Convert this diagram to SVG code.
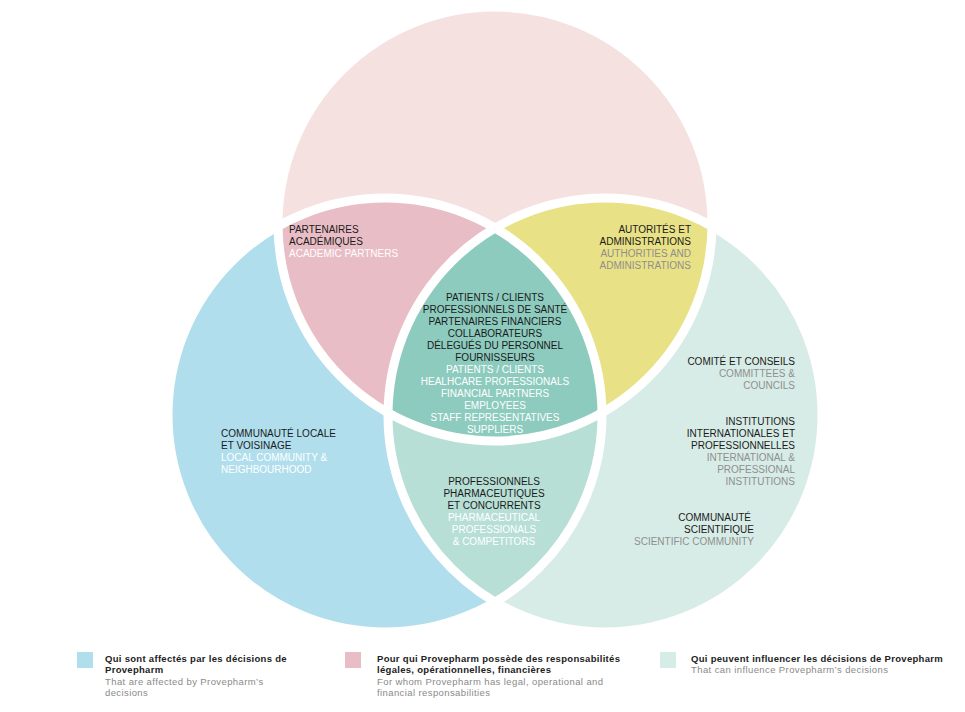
<svg xmlns="http://www.w3.org/2000/svg" width="965" height="712" viewBox="0 0 965 712">
<style>
text{font-family:"Liberation Sans",Arial,sans-serif;font-size:10px}
.fr{fill:#1a1a1a}
.enw{fill:#ffffff}
.eng{fill:#8f8f8f}
.c{text-anchor:middle}
.r{text-anchor:end}
.lgt{font-size:9.5px;font-weight:bold;fill:#222222;letter-spacing:0.3px}
.lge{font-size:9.5px;fill:#8a8a8a;letter-spacing:0.4px}
.ring{fill:none;stroke:#ffffff;stroke-width:9}
</style>
<defs>
<clipPath id="cT"><circle cx="495" cy="224" r="217"/></clipPath>
<clipPath id="cL"><circle cx="385" cy="415" r="217"/></clipPath>
<clipPath id="cR"><circle cx="605" cy="415" r="217"/></clipPath>
</defs>
<rect width="965" height="712" fill="#ffffff"/>
<g id="circles">
<circle id="top" cx="495" cy="224" r="217" fill="#f4e1e0"/>
<circle id="left" cx="385" cy="415" r="217" fill="#b1deed"/>
<circle id="right" cx="605" cy="415" r="217" fill="#d7ece6"/>
<circle id="top-left" cx="385" cy="415" r="217" fill="#e8bdc5" clip-path="url(#cT)"/>
<circle id="top-right" cx="605" cy="415" r="217" fill="#e9e186" clip-path="url(#cT)"/>
<circle id="left-right" cx="605" cy="415" r="217" fill="#b7dfd5" clip-path="url(#cL)"/>
<g clip-path="url(#cT)"><circle id="center" cx="605" cy="415" r="217" fill="#8dcbbe" clip-path="url(#cL)"/></g>
<circle class="ring" cx="495" cy="224" r="217"/>
<circle class="ring" cx="385" cy="415" r="217"/>
<circle class="ring" cx="605" cy="415" r="217"/>
</g>
<g id="academic">
<text class="fr" x="289" y="233">PARTENAIRES</text>
<text class="fr" x="289" y="245">ACADÉMIQUES</text>
<text class="enw" x="289" y="257">ACADEMIC PARTNERS</text>
</g>
<g id="authorities">
<text class="fr r" x="691" y="233">AUTORITÉS ET</text>
<text class="fr r" x="691" y="245">ADMINISTRATIONS</text>
<text class="eng r" x="691" y="257">AUTHORITIES AND</text>
<text class="eng r" x="691" y="269">ADMINISTRATIONS</text>
</g>
<g id="core">
<text class="fr c" x="495" y="301">PATIENTS / CLIENTS</text>
<text class="fr c" x="495" y="313">PROFESSIONNELS DE SANTÉ</text>
<text class="fr c" x="495" y="325">PARTENAIRES FINANCIERS</text>
<text class="fr c" x="495" y="337">COLLABORATEURS</text>
<text class="fr c" x="495" y="349">DÉLEGUÉS DU PERSONNEL</text>
<text class="fr c" x="495" y="361">FOURNISSEURS</text>
<text class="enw c" x="495" y="373">PATIENTS / CLIENTS</text>
<text class="enw c" x="495" y="385">HEALHCARE PROFESSIONALS</text>
<text class="enw c" x="495" y="397">FINANCIAL PARTNERS</text>
<text class="enw c" x="495" y="409">EMPLOYEES</text>
<text class="enw c" x="495" y="421">STAFF REPRESENTATIVES</text>
<text class="enw c" x="495" y="433">SUPPLIERS</text>
</g>
<g id="local">
<text class="fr" x="221" y="437">COMMUNAUTÉ LOCALE</text>
<text class="fr" x="221" y="449">ET VOISINAGE</text>
<text class="enw" x="221" y="461">LOCAL COMMUNITY &amp;</text>
<text class="enw" x="221" y="473">NEIGHBOURHOOD</text>
</g>
<g id="pharma">
<text class="fr c" x="494" y="485">PROFESSIONNELS</text>
<text class="fr c" x="494" y="497">PHARMACEUTIQUES</text>
<text class="fr c" x="494" y="509">ET CONCURRENTS</text>
<text class="enw c" x="494" y="521">PHARMACEUTICAL</text>
<text class="enw c" x="494" y="533">PROFESSIONALS</text>
<text class="enw c" x="494" y="545">&amp; COMPETITORS</text>
</g>
<g id="committees">
<text class="fr r" x="795" y="365">COMITÉ ET CONSEILS</text>
<text class="eng r" x="795" y="377">COMMITTEES &amp;</text>
<text class="eng r" x="795" y="389">COUNCILS</text>
</g>
<g id="institutions">
<text class="fr r" x="795" y="425">INSTITUTIONS</text>
<text class="fr r" x="795" y="437">INTERNATIONALES ET</text>
<text class="fr r" x="795" y="449">PROFESSIONNELLES</text>
<text class="eng r" x="795" y="461">INTERNATIONAL &amp;</text>
<text class="eng r" x="795" y="473">PROFESSIONAL</text>
<text class="eng r" x="795" y="485">INSTITUTIONS</text>
</g>
<g id="scientific">
<text class="fr r" x="751" y="521">COMMUNAUTÉ</text>
<text class="fr r" x="754" y="533">SCIENTIFIQUE</text>
<text class="eng r" x="754" y="545">SCIENTIFIC COMMUNITY</text>
</g>
<g id="legend">
<rect x="77" y="652" width="16" height="16" fill="#b1deed"/>
<text class="lgt" x="105" y="662">Qui sont affectés par les décisions de</text>
<text class="lgt" x="105" y="673">Provepharm</text>
<text class="lge" x="105" y="685">That are affected by Provepharm’s</text>
<text class="lge" x="105" y="696">decisions</text>
<rect x="345" y="652" width="16" height="16" fill="#e8bdc5"/>
<text class="lgt" x="377" y="662">Pour qui Provepharm possède des responsabilités</text>
<text class="lgt" x="377" y="673">légales, opérationnelles, financières</text>
<text class="lge" x="377" y="685">For whom Provepharm has legal, operational and</text>
<text class="lge" x="377" y="696">financial responsabilities</text>
<rect x="660" y="652" width="16" height="16" fill="#d7ece6"/>
<text class="lgt" x="691" y="662">Qui peuvent influencer les décisions de Provepharm</text>
<text class="lge" x="691" y="673">That can influence Provepharm’s decisions</text>
</g>
</svg>
